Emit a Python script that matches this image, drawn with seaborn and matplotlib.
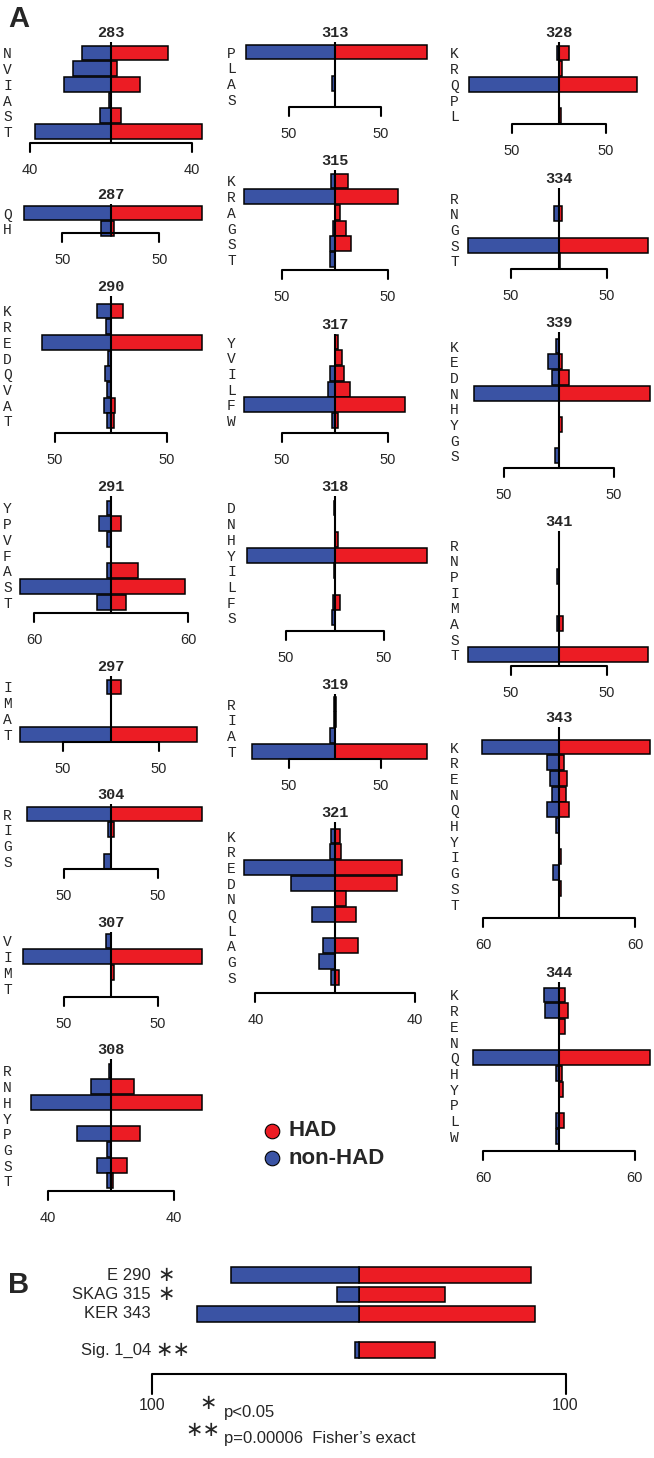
import matplotlib
matplotlib.use("Agg")
import matplotlib.pyplot as plt
import pandas as pd
import seaborn as sns
from matplotlib.transforms import blended_transform_factory

# ---------------- data (percent of sequences) ----------------
p283_res = ['N', 'V', 'I', 'A', 'S', 'T']
p283_had = [28, 3, 14.5, 0, 5, 45]
p283_non = [14.3, 19, 23, 1, 5.5, 37.5]

p287_res = ['Q', 'H']
p287_had = [94, 3]
p287_non = [90, 10]

p290_res = ['K', 'R', 'E', 'D', 'Q', 'V', 'A', 'T']
p290_had = [10.7, 0, 81, 0, 0, 0, 4, 3]
p290_non = [12.5, 4.5, 62, 2.5, 5.4, 3.6, 6.2, 3.5]

p291_res = ['Y', 'P', 'V', 'F', 'A', 'S', 'T']
p291_had = [0, 7.8, 0, 0, 21, 58, 11.7]
p291_non = [3, 9.4, 3, 0, 3, 71, 11]

p297_res = ['I', 'M', 'A', 'T']
p297_had = [10, 0, 0, 90]
p297_non = [4.5, 0, 0, 95]

p304_res = ['R', 'I', 'G', 'S']
p304_had = [97, 3, 0, 0]
p304_non = [89, 3, 0, 7.5]

p307_res = ['V', 'I', 'M', 'T']
p307_had = [0, 97, 3, 0]
p307_non = [5.3, 94, 0, 0]

p308_res = ['R', 'N', 'H', 'Y', 'P', 'G', 'S', 'T']
p308_had = [0, 14.6, 58, 0, 18.4, 0, 10, 1]
p308_non = [1.3, 12.7, 51, 0, 21.5, 2.5, 9, 2.5]

p313_res = ['P', 'L', 'A', 'S']
p313_had = [100, 0, 0, 0]
p313_non = [97, 0, 3.5, 0]

p315_res = ['K', 'R', 'A', 'G', 'S', 'T']
p315_had = [12, 59, 4.7, 10, 15, 0]
p315_non = [3.8, 86, 0, 2, 4.7, 4.7]

p317_res = ['Y', 'V', 'I', 'L', 'F', 'W']
p317_had = [2.8, 6.6, 8.5, 14, 66, 2.8]
p317_non = [0, 0, 4.7, 6.6, 86, 2.8]

p318_res = ['D', 'N', 'H', 'Y', 'I', 'L', 'F', 'S']
p318_had = [0, 0, 3, 94, 0, 0, 5, 0]
p318_non = [1, 0, 0, 90, 1.5, 0, 2, 3]

p319_res = ['R', 'I', 'A', 'T']
p319_had = [1.5, 1.5, 0, 100]
p319_non = [1.5, 1.5, 5.4, 90]

p321_res = ['K', 'R', 'E', 'D', 'N', 'Q', 'L', 'A', 'G', 'S']
p321_had = [2.7, 3, 33.6, 31, 5.5, 10.6, 0, 11.6, 0, 2]
p321_non = [2, 2.3, 45.8, 22, 0, 11.6, 0, 6, 8, 2]

p328_res = ['K', 'R', 'Q', 'P', 'L']
p328_had = [11, 3, 83, 0, 2.5]
p328_non = [2.5, 0, 96, 0, 0]

p334_res = ['R', 'N', 'G', 'S', 'T']
p334_had = [0, 3, 0, 93, 1.5]
p334_non = [0, 5, 0, 95, 0]

p339_res = ['K', 'E', 'D', 'N', 'H', 'Y', 'G', 'S']
p339_had = [0, 2.5, 9, 83, 0, 2.5, 0, 0]
p339_non = [2.5, 10, 6.5, 77, 0, 0, 0, 4]

p341_res = ['R', 'N', 'P', 'I', 'M', 'A', 'S', 'T']
p341_had = [0, 0, 0, 0, 0, 4, 0, 93]
p341_non = [0, 0, 2, 0, 0, 2, 0, 95]

p343_res = ['K', 'R', 'E', 'N', 'Q', 'H', 'Y', 'I', 'G', 'S', 'T']
p343_had = [72, 4, 6.3, 5.5, 8, 0, 0, 1.6, 0, 1.6, 0]
p343_non = [61, 9.5, 7, 5.5, 9.5, 2.4, 0, 0, 4.7, 0, 0]

p344_res = ['K', 'R', 'E', 'N', 'Q', 'H', 'Y', 'P', 'L', 'W']
p344_had = [5, 7, 5, 0, 72, 2.4, 3, 0, 4, 0]
p344_non = [12, 11, 0, 0, 68, 2.4, 0, 0, 2.4, 2]

# scale-bar values shown under each panel
scale_vals = {'283': 40, '287': 50, '290': 50, '291': 60, '297': 50, '304': 50,
              '307': 50, '308': 40, '313': 50, '315': 50, '317': 50, '318': 50,
              '319': 50, '321': 40, '328': 50, '334': 50, '339': 50, '341': 50,
              '343': 60, '344': 60}

# panel B
b_labels = ['E 290', 'SKAG 315', 'KER 343']
b_stars = ['\u2217', '\u2217', '']
b_had = [83.5, 41.5, 85]
b_non = [62, 10.7, 78.5]
sig_label = ['Sig. 1_04']
sig_had = [37]
sig_non = [2]
b_scale = 100

# ---------------- style ----------------
sns.set_theme(style='white')
plt.rcParams['font.family'] = ['Liberation Sans', 'DejaVu Sans']
RED = '#EC1C24'
BLUE = '#3A53A4'
PAL = {'HAD': RED, 'non-HAD': BLUE}

W, H = 654, 1458
fig = plt.figure(figsize=(W / 100, H / 100), dpi=100)
S = 15.7  # row pitch in px

COLS = {1: (16, 218, 111), 2: (240, 442, 335), 3: (463, 654, 559)}

# layout: name -> (column, px per unit, title y, first row y, scale-line y)
layout = {
    '283': (1, 2.025, 33, 53, 143),
    '287': (1, 0.97, 195, 213, 233),
    '290': (1, 1.12, 287, 311, 433),
    '291': (1, 1.283, 487, 508, 613),
    '297': (1, 0.96, 667, 687, 742),
    '304': (1, 0.94, 795, 814, 869),
    '307': (1, 0.94, 923, 941, 997),
    '308': (1, 1.575, 1050, 1071, 1191),
    '313': (2, 0.92, 33, 52, 107),
    '315': (2, 1.06, 161, 181, 270),
    '317': (2, 1.06, 325, 342, 433),
    '318': (2, 0.98, 487, 508, 631),
    '319': (2, 0.92, 685, 704, 759),
    '321': (2, 1.99, 813, 836, 993),
    '328': (3, 0.94, 33, 53, 124),
    '334': (3, 0.96, 179, 198, 269),
    '339': (3, 1.10, 323, 346, 468),
    '341': (3, 0.96, 522, 545, 666),
    '343': (3, 1.267, 718, 747, 918),
    '344': (3, 1.26, 973, 995, 1151),
}

data = {
    '283': (p283_res, p283_had, p283_non), '287': (p287_res, p287_had, p287_non),
    '290': (p290_res, p290_had, p290_non), '291': (p291_res, p291_had, p291_non),
    '297': (p297_res, p297_had, p297_non), '304': (p304_res, p304_had, p304_non),
    '307': (p307_res, p307_had, p307_non), '308': (p308_res, p308_had, p308_non),
    '313': (p313_res, p313_had, p313_non), '315': (p315_res, p315_had, p315_non),
    '317': (p317_res, p317_had, p317_non), '318': (p318_res, p318_had, p318_non),
    '319': (p319_res, p319_had, p319_non), '321': (p321_res, p321_had, p321_non),
    '328': (p328_res, p328_had, p328_non), '334': (p334_res, p334_had, p334_non),
    '339': (p339_res, p339_had, p339_non), '341': (p341_res, p341_had, p341_non),
    '343': (p343_res, p343_had, p343_non), '344': (p344_res, p344_had, p344_non),
}


def make_df(res, had, non):
    return pd.DataFrame({
        'res': list(res) * 2,
        'value': list(had) + [-v for v in non],
        'group': ['HAD'] * len(res) + ['non-HAD'] * len(res),
    })


def clean(ax):
    for s in ax.spines.values():
        s.set_visible(False)
    ax.set_xticks([])
    ax.set_xlabel('')
    ax.set_ylabel('')
    ax.patch.set_visible(False)


for name, (col, ppu, title_y, row0, line_y) in layout.items():
    res, had, non = data[name]
    L = scale_vals[name]
    left, right, cx = COLS[col]
    top = title_y - 12
    bottom = line_y + 40
    ax = fig.add_axes([left / W, 1 - bottom / H, (right - left) / W, (bottom - top) / H])
    sns.barplot(data=make_df(res, had, non), x='value', y='res', hue='group',
                order=res, hue_order=['HAD', 'non-HAD'], palette=PAL, dodge=False,
                orient='h', width=0.95, saturation=1, edgecolor='black',
                linewidth=1.1, errorbar=None, legend=False, ax=ax)
    ax.set_xlim((left - cx) / ppu, (right - cx) / ppu)

    def py(px, row0=row0):
        return (px - row0) / S

    ax.set_ylim(py(bottom), py(top))
    clean(ax)
    ax.tick_params(axis='y', length=0, pad=3, labelsize=10.5)
    for lab in ax.get_yticklabels():
        lab.set_fontfamily('Liberation Mono')
    # title
    ax.text(0, py(title_y), name, ha='center', va='center', fontsize=11,
            fontweight='bold', family='Liberation Mono')
    # centre line
    ax.plot([0, 0], [py(title_y + 9), py(line_y)], color='black', lw=1.5,
            zorder=5, clip_on=False, solid_capstyle='butt')
    # scale bracket
    ax.plot([-L, -L, L, L], [py(line_y + 9), py(line_y), py(line_y), py(line_y + 9)],
            color='black', lw=1.5, clip_on=False)
    for xv in (-L, L):
        ax.text(xv, py(line_y + 27), str(L), ha='center', va='center', fontsize=10.5)

# ---------------- panel B ----------------
BS = 19.5
b_left, b_right, b_cx, b_ppu = 180, 620, 359, 2.065
b_row0 = 1275
b_top, b_bot = 1262, 1326
axb = fig.add_axes([b_left / W, 1 - b_bot / H, (b_right - b_left) / W, (b_bot - b_top) / H])
sns.barplot(data=make_df(b_labels, b_had, b_non), x='value', y='res', hue='group',
            order=b_labels, hue_order=['HAD', 'non-HAD'], palette=PAL, dodge=False,
            orient='h', width=0.82, saturation=1, edgecolor='black', linewidth=1.1,
            errorbar=None, legend=False, ax=axb)
axb.set_xlim((b_left - b_cx) / b_ppu, (b_right - b_cx) / b_ppu)
axb.set_ylim((b_bot - b_row0) / BS, (b_top - b_row0) / BS)
clean(axb)
axb.set_yticks([])

s_row0 = 1350
s_top, s_bot = 1338, 1418
axs = fig.add_axes([b_left / W, 1 - s_bot / H, (b_right - b_left) / W, (s_bot - s_top) / H])
sns.barplot(data=make_df(sig_label, sig_had, sig_non), x='value', y='res', hue='group',
            order=sig_label, hue_order=['HAD', 'non-HAD'], palette=PAL, dodge=False,
            orient='h', width=0.82, saturation=1, edgecolor='black', linewidth=1.1,
            errorbar=None, legend=False, ax=axs)
axs.set_xlim((b_left - b_cx) / b_ppu, (b_right - b_cx) / b_ppu)


def spy(px):
    return (px - s_row0) / BS


axs.set_ylim(spy(s_bot), spy(s_top))
clean(axs)
axs.set_yticks([])
axs.plot([-b_scale, -b_scale, b_scale, b_scale],
         [spy(1394), spy(1374), spy(1374), spy(1394)], color='black', lw=1.5, clip_on=False)
for xv in (-b_scale, b_scale):
    axs.text(xv, spy(1406), str(b_scale), ha='center', va='center', fontsize=11.5)

# overlay in pixel coordinates for labels / legend
ov = fig.add_axes([0, 0, 1, 1], zorder=-1)
ov.set_xlim(0, W)
ov.set_ylim(H, 0)
ov.axis('off')

tb = blended_transform_factory(ov.transData, axb.transData)
for i, (lab, st) in enumerate(zip(b_labels, b_stars)):
    ov.text(151, i, lab, transform=tb, ha='right', va='center', fontsize=12)
    if st:
        ov.text(166, i, st, transform=tb, ha='center', va='center', fontsize=15,
                family='DejaVu Sans')
ts = blended_transform_factory(ov.transData, axs.transData)
ov.text(151, 0, sig_label[0], transform=ts, ha='right', va='center', fontsize=12)
ov.text(173, 0, '\u2217\u2217', transform=ts, ha='center', va='center', fontsize=15,
        family='DejaVu Sans')

ov.text(208, 1403, '\u2217', ha='center', va='center', fontsize=15, family='DejaVu Sans')
ov.text(224, 1412, 'p<0.05', ha='left', va='center', fontsize=12)
ov.text(203, 1430, '\u2217\u2217', ha='center', va='center', fontsize=15, family='DejaVu Sans')
ov.text(224, 1439, 'p=0.00006  Fisher\u2019s exact', ha='left', va='center', fontsize=12)

# legend
for yy, lab, c in [(1131, 'HAD', RED), (1158, 'non-HAD', BLUE)]:
    ov.scatter([272], [yy], s=110, color=c, edgecolor='black', linewidth=0.8)
    ov.text(288, yy, lab, ha='left', va='center', fontsize=16, fontweight='bold')

# panel letters
ov.text(8, 19, 'A', ha='left', va='center', fontsize=21, fontweight='bold')
ov.text(8, 1285, 'B', ha='left', va='center', fontsize=21, fontweight='bold')

fig.savefig('out.png', dpi=100)
